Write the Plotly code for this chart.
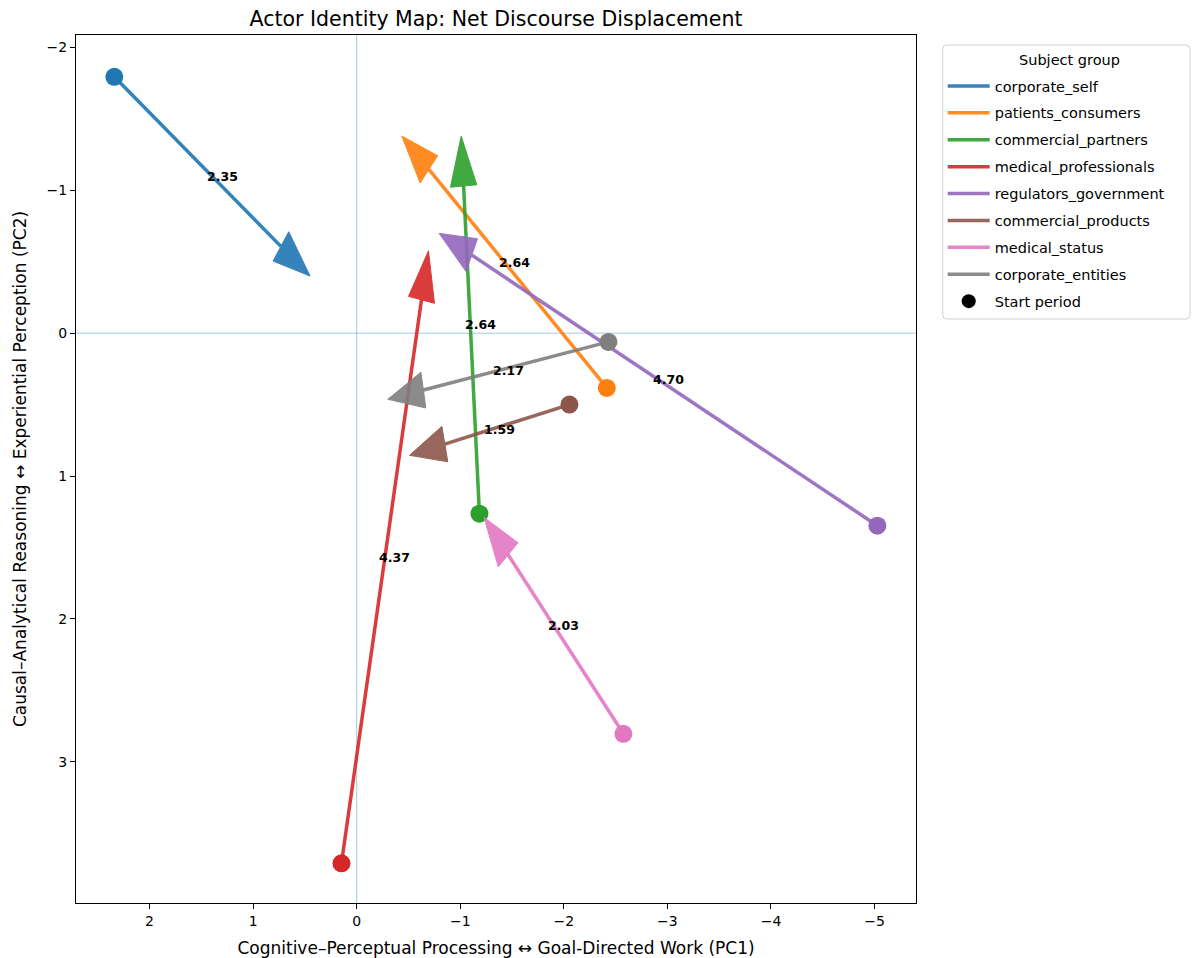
import math
import plotly.graph_objects as go

# ---- data ----
groups = ["corporate_self", "patients_consumers", "commercial_partners",
          "medical_professionals", "regulators_government", "commercial_products",
          "medical_status", "corporate_entities"]
colors = ["#1f77b4", "#ff7f0e", "#2ca02c", "#d62728", "#9467bd", "#8c564b",
          "#e377c2", "#7f7f7f"]
start_x = [2.34, -2.415, -1.185, 0.147, -5.027, -2.054, -2.575, -2.431]
start_y = [-1.795, 0.383, 1.264, 3.712, 1.348, 0.500, 2.805, 0.061]
end_x = [0.45, -0.436, -1.009, -0.693, -0.796, -0.510, -1.23, -0.30]
end_y = [-0.40, -1.380, -1.380, -0.577, -0.699, 0.855, 1.29, 0.463]
lengths = [2.35, 2.64, 2.64, 4.37, 4.70, 1.59, 2.03, 2.17]

x_ticks = [2, 1, 0, -1, -2, -3, -4, -5]
x_ticktext = ["2", "1", "0", "\u22121", "\u22122", "\u22123", "\u22124", "\u22125"]
y_ticks = [-2, -1, 0, 1, 2, 3]
y_ticktext = ["\u22122", "\u22121", "0", "1", "2", "3"]

HEAD_LEN = 0.35
HEAD_W = 0.255
FONT = "DejaVu Sans"

# page is shown with an 8px body margin; figure size compensates
W, H = 1193, 950
ML, MR, MT, MB = 68, 285, 27, 55
PW, PH = W - ML - MR, H - MT - MB


def px_to_paper(px, py):
    """page pixel -> paper fraction"""
    return (px - 8 - ML) / PW, (H - MB - (py - 8)) / PH


fig = go.Figure()

for i, g in enumerate(groups):
    sx, sy, ex, ey = start_x[i], start_y[i], end_x[i], end_y[i]
    dx, dy = ex - sx, ey - sy
    L = math.hypot(dx, dy)
    ux, uy = dx / L, dy / L
    px, py = -uy, ux
    bx, by = ex - HEAD_LEN * ux, ey - HEAD_LEN * uy
    fig.add_trace(go.Scatter(
        x=[sx, bx], y=[sy, by], mode="lines",
        line=dict(color=colors[i], width=3.5),
        opacity=0.9, name=g, legendgroup=g, showlegend=True,
        hoverinfo="skip"))
    hx = [ex, bx + HEAD_W / 2 * px, bx - HEAD_W / 2 * px, ex]
    hy = [ey, by + HEAD_W / 2 * py, by - HEAD_W / 2 * py, ey]
    fig.add_trace(go.Scatter(
        x=hx, y=hy, mode="lines", fill="toself", fillcolor=colors[i],
        line=dict(color=colors[i], width=1), opacity=0.9,
        legendgroup=g, showlegend=False, hoverinfo="skip"))
    fig.add_trace(go.Scatter(
        x=[sx], y=[sy], mode="markers",
        marker=dict(color=colors[i], size=18, line=dict(width=0)),
        legendgroup=g, showlegend=False, hoverinfo="skip"))
    fig.add_annotation(
        x=(sx + ex) / 2, y=(sy + ey) / 2, text="<b>%.2f</b>" % lengths[i],
        showarrow=False, xshift=10,
        font=dict(family=FONT, size=12.5, color="black"))

fig.add_trace(go.Scatter(
    x=[None], y=[None], mode="markers", name="Start period",
    legendgroup="start", marker=dict(color="black", size=14)))

ref_color = "rgba(31,119,180,0.4)"
fig.add_shape(type="line", xref="x", yref="paper", x0=0, x1=0, y0=0, y1=1,
              line=dict(color=ref_color, width=1), layer="below")
fig.add_shape(type="line", xref="paper", yref="y", x0=0, x1=1, y0=0, y1=0,
              line=dict(color=ref_color, width=1), layer="below")

# legend frame (rounded) + title
lx0, ly0 = px_to_paper(942.7, 45)
lx1, ly1 = px_to_paper(1190, 319)
rx, ry = 4 / PW, 4 / PH
path = (f"M{lx0 + rx},{ly0} L{lx1 - rx},{ly0} Q{lx1},{ly0} {lx1},{ly0 - ry} "
        f"L{lx1},{ly1 + ry} Q{lx1},{ly1} {lx1 - rx},{ly1} "
        f"L{lx0 + rx},{ly1} Q{lx0},{ly1} {lx0},{ly1 + ry} "
        f"L{lx0},{ly0 - ry} Q{lx0},{ly0} {lx0 + rx},{ly0} Z")
fig.add_shape(type="path", xref="paper", yref="paper", path=path,
              line=dict(color="#d0d0d0", width=1), fillcolor="white",
              layer="below")
tx, ty = px_to_paper(1069, 60)
fig.add_annotation(x=tx, y=ty, xref="paper", yref="paper", text="Subject group",
                   showarrow=False, xanchor="center", yanchor="middle",
                   font=dict(family=FONT, size=14.5, color="black"))
leg_x, leg_y = px_to_paper(942.7, 70)

axis_common = dict(
    showgrid=False, zeroline=False, showline=True, mirror=True,
    linecolor="black", linewidth=1, ticks="outside", ticklen=5,
    tickwidth=1, tickcolor="black", automargin=False,
    tickfont=dict(family=FONT, size=14, color="black"))

fig.update_layout(
    width=W, height=H,
    margin=dict(l=ML, r=MR, t=MT, b=MB),
    paper_bgcolor="white", plot_bgcolor="white",
    font=dict(family=FONT, size=14, color="black"),
    title=dict(text="Actor Identity Map: Net Discourse Displacement",
               x=0.5, xref="paper", y=1 - 11 / H, yref="container",
               xanchor="center", yanchor="middle",
               font=dict(family=FONT, size=20.5, color="black")),
    xaxis=dict(range=[2.71, -5.40], tickvals=x_ticks, ticktext=x_ticktext,
               title=dict(text="Cognitive\u2013Perceptual Processing \u2194 Goal-Directed Work (PC1)",
                          standoff=14, font=dict(family=FONT, size=17, color="black")),
               **axis_common),
    yaxis=dict(range=[3.99, -2.088], tickvals=y_ticks, ticktext=y_ticktext,
               title=dict(text="Causal\u2013Analytical Reasoning \u2194 Experiential Perception (PC2)",
                          standoff=15, font=dict(family=FONT, size=17, color="black")),
               **axis_common),
    legend=dict(
        x=leg_x, y=leg_y, xanchor="left", yanchor="top",
        borderwidth=0, bgcolor="rgba(0,0,0,0)",
        traceorder="grouped", tracegroupgap=5.05, itemwidth=42,
        font=dict(family=FONT, size=14.5, color="black")),
    showlegend=True,
)

fig.write_html("out.html")
